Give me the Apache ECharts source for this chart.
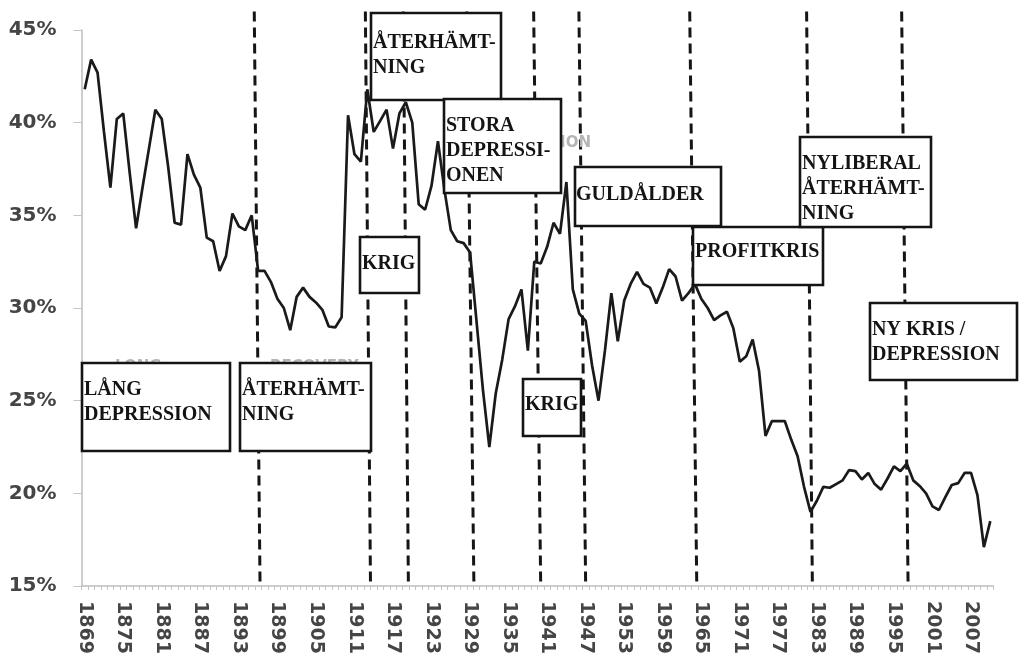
<!DOCTYPE html>
<html><head><meta charset="utf-8">
<script src="https://cdn.jsdelivr.net/npm/echarts@6/dist/echarts.min.js"></script>
<style>html,body{margin:0;padding:0;background:#fff}#c{width:1020px;height:659px}</style>
</head><body><div id="c"></div>
<script>
// ---- data ----
const firstYear = 1869;
const profitRate = [
  41.8, 43.4, 42.7, 39.5, 36.5, 40.2, 40.5, 37.3, 34.3, 36.5, // 1869-1878
  38.6, 40.7, 40.2, 37.6, 34.6, 34.5, 38.3, 37.2, 36.5, 33.8, // 1879-1888
  33.6, 32.0, 32.8, 35.1, 34.4, 34.2, 35.0, 32.0, 32.0, 31.4, // 1889-1898
  30.5, 30.0, 28.8, 30.6, 31.1, 30.6, 30.3, 29.9, 29.0, 28.95,// 1899-1908
  29.5, 40.4, 38.3, 37.9, 41.8, 39.5, 40.1, 40.7, 38.6, 40.5, // 1909-1918
  41.1, 40.0, 35.6, 35.3, 36.6, 39.0, 36.4, 34.2, 33.6, 33.5, // 1919-1928
  33.0, 29.3, 25.6, 22.5, 25.4, 27.2, 29.4, 30.1, 31.0, 27.7, // 1929-1938
  32.5, 32.4, 33.3, 34.6, 34.0, 36.8, 31.0, 29.7, 29.3, 26.9, // 1939-1948
  25.0, 27.7, 30.8, 28.2, 30.4, 31.3, 31.95, 31.3, 31.1, 30.25,// 1949-1958
  31.1, 32.1, 31.7, 30.4, 30.8, 31.3, 30.5, 30.0, 29.35, 29.6,// 1959-1968
  29.8, 28.9, 27.1, 27.4, 28.3, 26.6, 23.1, 23.9, 23.9, 23.9, // 1969-1978
  22.9, 22.0, 20.35, 19.0, 19.6, 20.35, 20.3, 20.5, 20.7, 21.25,// 1979-1988
  21.2, 20.75, 21.1, 20.5, 20.2, 20.8, 21.45, 21.2, 21.6, 20.7,// 1989-1998
  20.4, 20.0, 19.3, 19.1, 19.8, 20.45, 20.55, 21.1, 21.1, 19.9,// 1999-2008
  17.1, 18.5                                                   // 2009-2010
];
const years = profitRate.map((_, i) => String(firstYear + i));
// period break lines (hand drawn, slightly slanted): year at top and at bottom
const breakTopYears    = [1895.4, 1912.7, 1918.6, 1928.5, 1938.9, 1945.95, 1963.2, 1981.4, 1996.2];
const breakBottomYears = [1896.3, 1913.5, 1919.4, 1929.6, 1940.0, 1947.0, 1964.3, 1982.3, 1997.2];
const breakTopValue = 46, breakBottomValue = 15;
const yMin = 15, yMax = 45, yStep = 5;
const labelEvery = 6;

// ---- annotation layout (pixels) ----
const annotations = [
  {text: 'LÅNG\nDEPRESSION',          box: [82, 363, 230, 451],  tx: 84,  ty: 402},
  {text: 'ÅTERHÄMT-\nNING',           box: [240, 363, 371, 451], tx: 242, ty: 402},
  {text: 'ÅTERHÄMT-\nNING',           box: [371, 13, 501, 100],  tx: 373, ty: 55},
  {text: 'STORA\nDEPRESSI-\nONEN',    box: [444, 99, 561, 193],  tx: 446, ty: 151},
  {text: 'GULDÅLDER',                 box: [575, 167, 721, 226], tx: 576, ty: 195},
  {text: 'KRIG',                      box: [360, 237, 419, 293], tx: 362, ty: 264},
  {text: 'KRIG',                      box: [523, 379, 581, 436], tx: 525, ty: 405},
  {text: 'PROFITKRIS',                box: [693, 227, 823, 285], tx: 695, ty: 252},
  {text: 'NYLIBERAL\nÅTERHÄMT-\nNING',box: [800, 137, 931, 227], tx: 802, ty: 189},
  {text: 'NY KRIS /\nDEPRESSION',     box: [870, 303, 1017, 380],tx: 872, ty: 342}
];
const ghosts = [
  {text: 'LONG', x: 115, y: 360, align: 'left'},
  {text: 'RECOVERY', x: 270, y: 360, align: 'left'},
  {text: 'DEPRESSION', x: 591, y: 136, align: 'right'}
];

const graphic = [];
ghosts.forEach(g => graphic.push({
  type: 'text', z: 50,
  style: {x: g.x, y: g.y, text: g.text, align: g.align, verticalAlign: 'top',
          font: 'bold 15px "DejaVu Sans"', fill: '#b4b4b4'}
}));
annotations.forEach(a => {
  const [x1, y1, x2, y2] = a.box;
  graphic.push({
    type: 'rect', z: 100,
    shape: {x: x1, y: y1, width: x2 - x1, height: y2 - y1},
    style: {fill: '#ffffff', stroke: '#141414', lineWidth: 2.6}
  });
  graphic.push({
    type: 'text', z: 101,
    style: {x: a.tx, y: a.ty, text: a.text, align: 'left', verticalAlign: 'middle',
            font: 'bold 20px "Liberation Serif"', lineHeight: 25, fill: '#141414'}
  });
});

const breakSeries = breakTopYears.map((t, i) => ({
  type: 'line', xAxisIndex: 1, yAxisIndex: 0, clip: false, symbol: 'none', silent: true, z: 2,
  data: [[t, breakTopValue], [breakBottomYears[i], breakBottomValue]],
  lineStyle: {color: '#151515', width: 3, type: [10, 6]}
}));

const chart = echarts.init(document.getElementById('c'), null, {renderer: 'canvas'});
chart.setOption({
  animation: false,
  backgroundColor: '#ffffff',
  grid: {left: 81.5, right: 26.5, top: 30, bottom: 73, outerBoundsMode: 'none', containLabel: false},
  xAxis: [{
    type: 'category', data: years, boundaryGap: true,
    axisLine: {show: true, lineStyle: {color: '#bdbdbd', width: 1.5}},
    axisTick: {show: true, interval: 0, length: 4, lineStyle: {color: '#c4c4c4'}},
    axisLabel: {interval: labelEvery - 1, rotate: -90, margin: 15, color: '#454545',
                fontFamily: 'DejaVu Sans', fontWeight: 'bold', fontSize: 19},
    splitLine: {show: false}
  }, {
    type: 'value', show: false, min: firstYear - 0.5, max: firstYear + profitRate.length - 0.5,
    splitLine: {show: false}
  }],
  yAxis: {
    type: 'value', min: yMin, max: yMax, interval: yStep,
    axisLine: {show: true, lineStyle: {color: '#bdbdbd', width: 1.5}},
    axisTick: {show: true, length: 8, lineStyle: {color: '#c4c4c4'}},
    axisLabel: {formatter: '{value}%', margin: 25, color: '#454545',
                fontFamily: 'DejaVu Sans', fontWeight: 'bold', fontSize: 20},
    splitLine: {show: false}
  },
  series: [{
    type: 'line', data: profitRate, symbol: 'none', smooth: false, z: 3,
    lineStyle: {color: '#1a1a1a', width: 2.7}
  }].concat(breakSeries),
  graphic: graphic
});
</script></body></html>
